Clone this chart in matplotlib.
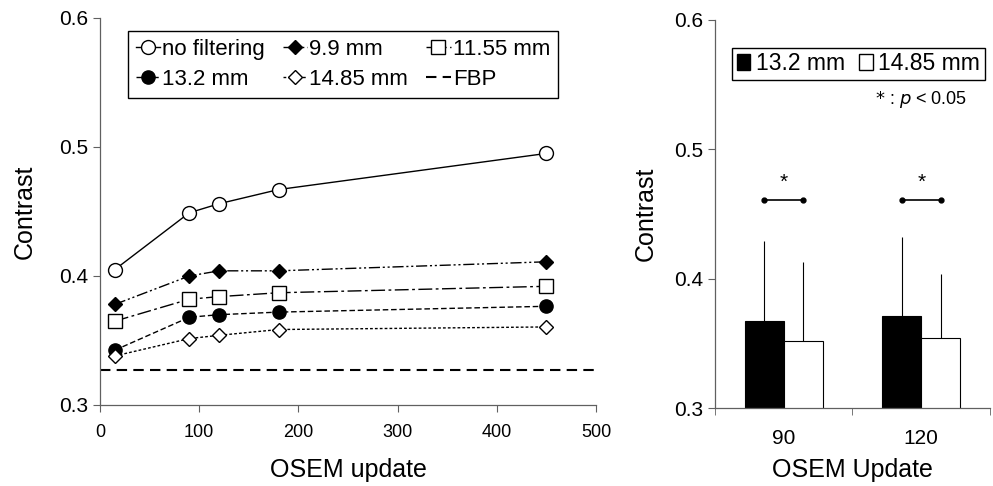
import numpy as np
import matplotlib.pyplot as plt
from matplotlib.patches import Patch

plt.rcParams['font.family'] = ['Liberation Sans', 'DejaVu Sans']

# left panel data
osem = [15, 90, 120, 180, 450]
no_filt = [0.405, 0.449, 0.456, 0.467, 0.495]
f99 = [0.378, 0.400, 0.404, 0.404, 0.411]
f1155 = [0.365, 0.382, 0.384, 0.387, 0.392]
f132 = [0.3425, 0.368, 0.370, 0.372, 0.3765]
f1485 = [0.338, 0.3515, 0.354, 0.3585, 0.3605]
fbp = 0.3275

# right panel data
cats = ['90', '120']
bar_132 = [0.3675, 0.371]
err_132 = [0.0615, 0.061]
bar_1485 = [0.352, 0.354]
err_1485 = [0.0607, 0.0496]
sig_y = 0.461

axcol = '#606060'

fig = plt.figure(figsize=(9.93, 4.86), dpi=100)
ax1 = fig.add_axes([0.1007, 0.1667, 0.4995, 0.7963])
ax2 = fig.add_axes([0.720, 0.160, 0.277, 0.799])

def style(ax):
    for s in ['top', 'right']:
        ax.spines[s].set_visible(False)
    for s in ['left', 'bottom']:
        ax.spines[s].set_color(axcol)
        ax.spines[s].set_linewidth(0.9)
    ax.tick_params(colors=axcol, labelcolor='black', labelsize=15, direction='out', length=5)

# ---- left
style(ax1)
h0, = ax1.plot(osem, no_filt, '-', color='black', lw=1, marker='o', ms=10, mfc='white', mec='black', label='no filtering')
h1, = ax1.plot(osem, f99, color='black', lw=1, dashes=[8, 2, 1.5, 2, 1.5, 2], marker='D', ms=7.5, mfc='black', label='9.9 mm')
h2, = ax1.plot(osem, f1155, color='black', lw=1, dashes=[10, 2.5, 2, 2.5], marker='s', ms=9.5, mfc='white', mec='black', label='11.55 mm')
h3, = ax1.plot(osem, f132, color='black', lw=1, dashes=[4, 2], marker='o', ms=9.5, mfc='black', label='13.2 mm')
h4, = ax1.plot(osem, f1485, color='black', lw=1, dashes=[2, 1.5], marker='D', ms=7.5, mfc='white', mec='black', label='14.85 mm')
h5 = ax1.axhline(fbp, color='black', lw=1.5, dashes=[5, 3], label='FBP')
ax1.set_xlim(0, 500)
ax1.set_ylim(0.3, 0.6)
ax1.set_xticks([0, 100, 200, 300, 400, 500])
ax1.set_yticks([0.3, 0.4, 0.5, 0.6])
ax1.set_yticklabels(['0.3', '0.4', '0.5', '0.6'])
ax1.tick_params(axis='x', labelsize=13, pad=9)
ax1.set_xlabel('OSEM update', fontsize=18, labelpad=12)
ax1.set_ylabel('Contrast', fontsize=18, labelpad=16)
leg = ax1.legend([h0, h3, h1, h4, h2, h5],
                 ['no filtering', '13.2 mm', '9.9 mm', '14.85 mm', '11.55 mm', 'FBP'],
                 ncol=3, loc='upper left', bbox_to_anchor=(0.056, 0.966), borderaxespad=0,
                 fontsize=16, handlelength=1.1, handletextpad=0.1, columnspacing=0.8,
                 labelspacing=0.4, borderpad=0.35, fancybox=False, framealpha=1, edgecolor='black')
leg.get_frame().set_linewidth(1)

# ---- right
style(ax2)
x = np.arange(len(cats))
w = 0.285
ax2.bar(x - w / 2, bar_132, w, color='black', edgecolor='black', lw=0.8)
ax2.bar(x + w / 2, bar_1485, w, color='white', edgecolor='black', lw=0.8)
ax2.errorbar(x - w / 2, bar_132, yerr=[np.zeros(2), err_132], fmt='none', ecolor='black', elinewidth=0.8, capsize=0)
ax2.errorbar(x + w / 2, bar_1485, yerr=[np.zeros(2), err_1485], fmt='none', ecolor='black', elinewidth=0.8, capsize=0)
for xi in x:
    ax2.plot([xi - w / 2, xi + w / 2], [sig_y, sig_y], '-', color='black', lw=1.2, marker='o', ms=3.5)
    ax2.text(xi, sig_y + 0.006, '*', ha='center', va='bottom', fontsize=15)
ax2.set_xlim(-0.5, 1.5)
ax2.set_ylim(0.3, 0.6)
ax2.set_yticks([0.3, 0.4, 0.5, 0.6])
ax2.set_yticklabels(['0.3', '0.4', '0.5', '0.6'])
ax2.set_xticks(x)
ax2.set_xticklabels(cats)
ax2.tick_params(axis='x', length=0, pad=15)
ax2.set_xticks([-0.5, 0.5, 1.5], minor=True)
ax2.tick_params(axis='x', which='minor', length=5, colors=axcol, direction='out')
ax2.set_xlabel('OSEM Update', fontsize=18, labelpad=7)
ax2.set_ylabel('Contrast', fontsize=18, labelpad=12)
leg2 = ax2.legend([Patch(facecolor='black', edgecolor='black'), Patch(facecolor='white', edgecolor='black')],
                  ['13.2 mm', '14.85 mm'], ncol=2, loc='upper left', bbox_to_anchor=(0.062, 0.928),
                  borderaxespad=0, fontsize=16.5, handlelength=0.6, handleheight=0.7, handletextpad=0.25,
                  columnspacing=0.6, borderpad=0.2, fancybox=False, framealpha=1, edgecolor='black')
leg2.get_frame().set_linewidth(1)
ax2.text(0.916, 0.794, r'$*$ : $p$ < 0.05', transform=ax2.transAxes, ha='right', va='center', fontsize=13)

fig.savefig('out.png', dpi=100)
